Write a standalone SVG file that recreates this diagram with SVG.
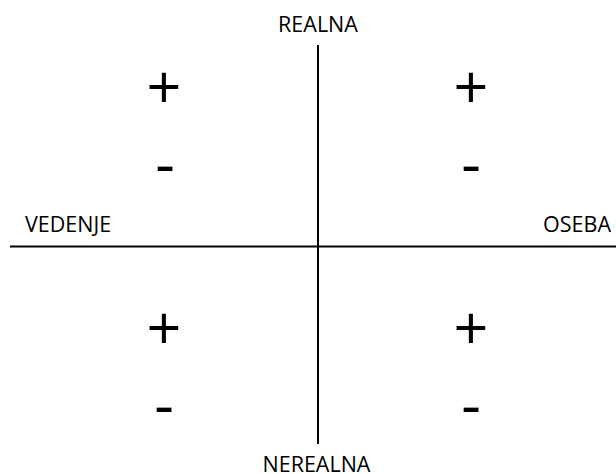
<svg xmlns="http://www.w3.org/2000/svg" width="616" height="474" viewBox="0 0 616 474">
<style>
.lbl{font-family:"Open Sans","Liberation Sans",sans-serif;font-size:21.5px;fill:#000}
.sym{font-family:"Open Sans","Liberation Sans",sans-serif;font-size:61px;fill:#000;text-anchor:middle}
.ax{stroke:#000;stroke-width:2;fill:none}
</style>
<rect width="616" height="474" fill="#fff"/>
<g id="axes">
<line class="ax" x1="318" y1="45" x2="318" y2="444"/>
<line class="ax" x1="10" y1="246.5" x2="616" y2="246.5"/>
</g>
<g id="labels">
<text class="lbl" x="318" y="32" text-anchor="middle">REALNA</text>
<text class="lbl" x="316.5" y="472" text-anchor="middle">NEREALNA</text>
<text class="lbl" x="25" y="232">VEDENJE</text>
<text class="lbl" x="611" y="232" text-anchor="end">OSEBA</text>
</g>
<g id="q1"><text class="sym" x="164" y="109">+</text><text class="sym" x="165" y="185">-</text></g>
<g id="q2"><text class="sym" x="471" y="109">+</text><text class="sym" x="471" y="185">-</text></g>
<g id="q3"><text class="sym" x="164" y="350">+</text><text class="sym" x="164" y="426">-</text></g>
<g id="q4"><text class="sym" x="471" y="350">+</text><text class="sym" x="471" y="426">-</text></g>
</svg>
